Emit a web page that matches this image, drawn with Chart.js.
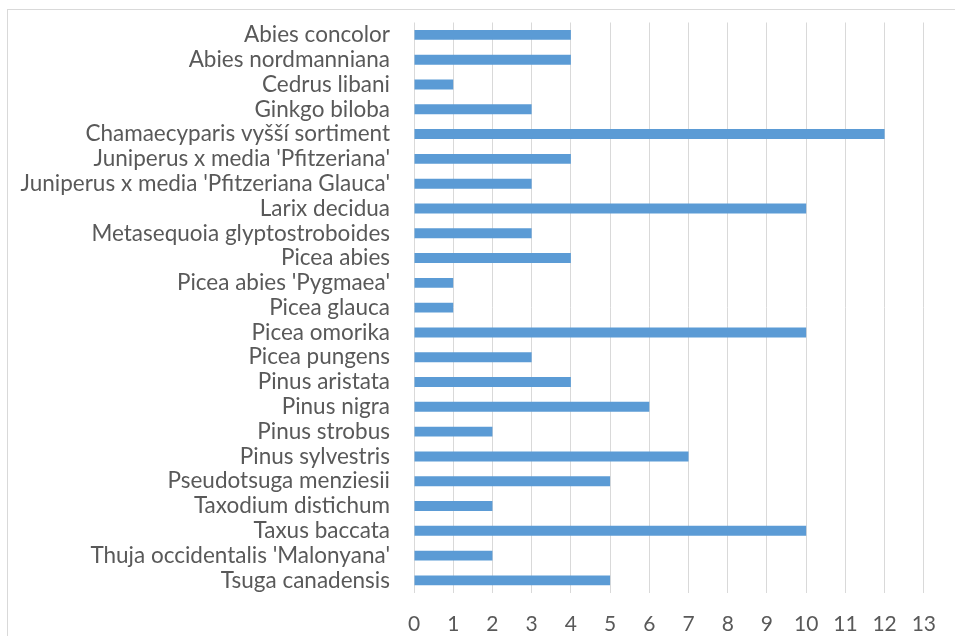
<!DOCTYPE html>
<html><head><meta charset="utf-8">
<script src="https://cdn.jsdelivr.net/npm/chart.js@4"></script>
<style>
html,body{margin:0;padding:0;background:#fff;overflow:hidden;}
#wrap{position:relative;width:955px;height:636px;overflow:hidden;}
#frame{position:absolute;left:7px;top:9px;width:960px;height:640px;border:1px solid #d9d9d9;box-sizing:border-box;}
canvas{position:absolute;left:0;top:-15px;}
</style></head>
<body><div id="wrap"><div id="frame"></div><canvas id="c" width="955" height="656"></canvas></div>
<script>
const categories = ["Abies concolor","Abies nordmanniana","Cedrus libani","Ginkgo biloba","Chamaecyparis vyšší sortiment","Juniperus x media 'Pfitzeriana'","Juniperus x media 'Pfitzeriana Glauca'","Larix decidua","Metasequoia glyptostroboides","Picea abies","Picea abies 'Pygmaea'","Picea glauca","Picea omorika","Picea pungens","Pinus aristata","Pinus nigra","Pinus strobus","Pinus sylvestris","Pseudotsuga menziesii","Taxodium distichum","Taxus baccata","Thuja occidentalis 'Malonyana'","Tsuga canadensis"];
const values = [4,4,1,3,12,4,3,10,3,4,1,1,10,3,4,6,2,7,5,2,10,2,5];
const xTicks = [0,1,2,3,4,5,6,7,8,9,10,11,12,13];

new Chart(document.getElementById('c'), {
  type: 'bar',
  data: { labels: categories, datasets: [{ data: values, backgroundColor: '#5b9bd5', barPercentage: 0.4, categoryPercentage: 1.0 }] },
  options: {
    indexAxis: 'y', responsive: false, animation: false,
    layout: { padding: { left: 0, right: 30, top: -6, bottom: -15 } },
    plugins: { legend: { display: false }, tooltip: { enabled: false } },
    scales: {
      x: {
        min: 0, max: 13,
        afterBuildTicks: s => { s.ticks = xTicks.map(v => ({ value: v })); },
        grid: { color: '#d9d9d9', lineWidth: 1, drawTicks: false },
        border: { display: false },
        ticks: { color: '#595959', font: { family: 'Lato', size: 21 }, padding: 19 }
      },
      y: {
        grid: { display: false, drawTicks: false },
        border: { display: false },
        afterFit: s => { s.width = 414; },
        ticks: { color: '#595959', font: { family: 'Lato', size: 22.5 }, padding: 24, autoSkip: false }
      }
    }
  }
});
</script></body></html>
